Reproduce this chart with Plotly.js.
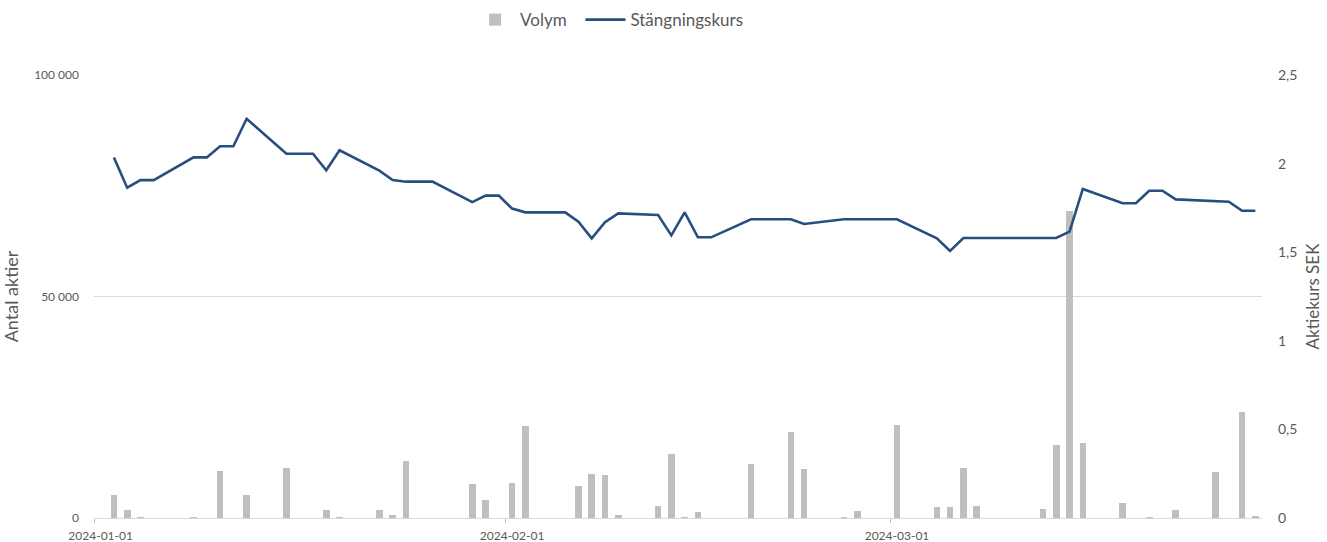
<!DOCTYPE html>
<html>
<head>
<meta charset="utf-8">
<script src="https://cdn.plot.ly/plotly-3.0.1.min.js"></script>
<style>html,body{margin:0;padding:0;background:#fff;}#chart{width:1327px;height:542px;}</style>
</head>
<body>
<div id="chart"></div>
<script>
const dates = [
  '2024-01-02','2024-01-03','2024-01-04','2024-01-05','2024-01-08','2024-01-09','2024-01-10','2024-01-11','2024-01-12',
  '2024-01-15','2024-01-16','2024-01-17','2024-01-18','2024-01-19','2024-01-22','2024-01-23','2024-01-24','2024-01-25','2024-01-26',
  '2024-01-29','2024-01-30','2024-01-31','2024-02-01','2024-02-02','2024-02-05','2024-02-06','2024-02-07','2024-02-08','2024-02-09',
  '2024-02-12','2024-02-13','2024-02-14','2024-02-15','2024-02-16','2024-02-19','2024-02-20','2024-02-21','2024-02-22','2024-02-23',
  '2024-02-26','2024-02-27','2024-02-28','2024-02-29','2024-03-01','2024-03-04','2024-03-05','2024-03-06','2024-03-07','2024-03-08',
  '2024-03-11','2024-03-12','2024-03-13','2024-03-14','2024-03-15','2024-03-18','2024-03-19','2024-03-20','2024-03-21','2024-03-22',
  '2024-03-25','2024-03-26','2024-03-27','2024-03-28'
];
const volym = [
  5100,1800,300,0,300,0,10500,0,5100,
  11400,0,0,1800,300,1800,700,12800,0,0,
  7600,4000,0,8000,20800,0,7200,9900,9700,700,
  2700,14500,300,1400,0,12300,0,0,19400,11000,
  300,1600,0,0,21100,2500,2500,11400,2700,0,
  0,2100,16400,69300,16900,3400,0,300,0,1700,
  10400,0,23900,500
];
const kurs = [
  2.035,1.864,1.907,1.907,2.035,2.035,2.098,2.098,2.253,
  2.056,2.056,2.056,1.962,2.075,1.96,1.907,1.898,1.898,1.898,
  1.783,1.819,1.819,1.746,1.725,1.725,1.672,1.578,1.669,1.719,
  1.710,1.595,1.725,1.584,1.584,1.686,1.686,1.686,1.686,1.659,
  1.686,1.686,1.686,1.686,1.686,1.578,1.507,1.58,1.58,1.58,
  1.58,1.58,1.58,1.616,1.857,1.776,1.776,1.847,1.847,1.798,
  1.79,1.785,1.734,1.734
];
const xTicks = ['2024-01-01','2024-02-01','2024-03-01'];
const xTickBounds = ['2023-12-31 12:00','2024-01-31 12:00','2024-02-29 12:00'];
const xRange = ['2023-12-31 12:00','2024-03-28 12:00'];

const FONT = 'Lato, "Open Sans", sans-serif';
const GREY = '#595959';

const traces = [
  {
    type: 'bar', name: 'Volym\u00a0\u00a0', x: dates, y: volym, yaxis: 'y',
    width: 43200000,
    marker: {color: '#bfbfbf', line: {width: 0}},
    hoverinfo: 'x+y'
  },
  {
    type: 'scatter', mode: 'lines', name: 'Stängningskurs', x: dates, y: kurs, yaxis: 'y2',
    line: {color: '#264f80', width: 2.6},
    hoverinfo: 'x+y'
  }
];

const layout = {
  width: 1327, height: 542,
  margin: {l: 94, r: 65, t: 75, b: 24, autoexpand: false},
  paper_bgcolor: '#ffffff', plot_bgcolor: '#ffffff',
  separators: ', ',
  font: {family: FONT, color: GREY, size: 12},
  showlegend: true,
  bargap: 0,
  legend: {
    orientation: 'h', x: 0.322, xanchor: 'left', y: 1.124, yanchor: 'middle',
    font: {family: FONT, size: 17, color: GREY},
    traceorder: 'normal', itemwidth: 40
  },
  xaxis: {
    type: 'date', range: xRange,
    tickmode: 'array', tickvals: xTicks, ticktext: xTicks,
    ticks: '', showgrid: false, zeroline: false,
    showline: true, linecolor: '#d9d9d9', linewidth: 1,
    ticklabelstandoff: 7,
    tickfont: {family: FONT, size: 12, color: GREY},
    minor: {tickmode: 'array', tickvals: xTickBounds, ticks: 'outside', ticklen: 4, tickcolor: '#bfbfbf', showgrid: false},
    fixedrange: true
  },
  yaxis: {
    range: [0, 100000], tickmode: 'array', tickvals: [0, 50000, 100000],
    tickformat: ',d',
    showgrid: true, gridcolor: '#d9d9d9', gridwidth: 1,
    zeroline: false, showline: false, ticks: '',
    ticklabelstandoff: 14,
    tickfont: {family: FONT, size: 12, color: GREY},
    title: {text: 'Antal aktier', font: {family: FONT, size: 18, color: GREY}, standoff: 14},
    fixedrange: true
  },
  yaxis2: {
    range: [0, 2.5], overlaying: 'y', side: 'right',
    tickmode: 'array', tickvals: [0, 0.5, 1, 1.5, 2, 2.5],
    showgrid: false, zeroline: false, showline: false, ticks: '',
    ticklabelstandoff: 15,
    tickfont: {family: FONT, size: 14, color: GREY},
    title: {text: 'Aktiekurs SEK', font: {family: FONT, size: 17, color: GREY}, standoff: 10},
    fixedrange: true
  }
};

Plotly.newPlot('chart', traces, layout, {displayModeBar: false, staticPlot: true});
</script>
</body>
</html>
